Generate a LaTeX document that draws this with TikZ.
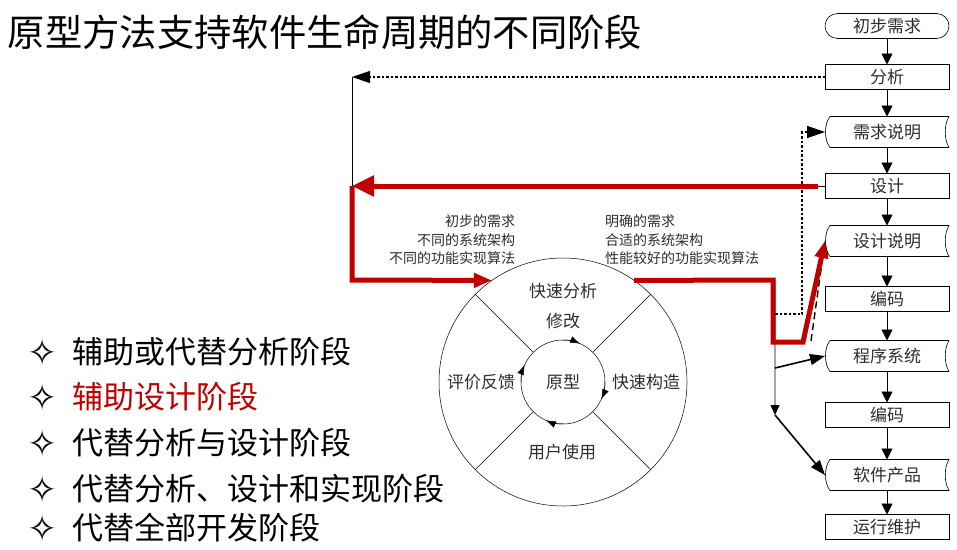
\documentclass[tikz,border=0pt]{standalone}
\usepackage{fontspec}
\setmainfont{Noto Sans CJK SC}
\newfontfamily\starfont{DejaVu Sans}
\usetikzlibrary{calc,arrows.meta}
\definecolor{protored}{RGB}{192,0,0}
\definecolor{boxtext}{RGB}{45,45,45}

\begin{document}
\begin{tikzpicture}[x=1pt, y=1pt,
  every node/.style={inner sep=0pt, outer sep=0pt},
  flowbox/.style={draw, line width=0.6pt, minimum width=124pt, minimum height=25pt,
    font=\fontsize{17}{17}\selectfont, text=boxtext},
  termbox/.style={flowbox, rounded corners=12.5pt},
  docbox/.style={flowbox, draw=none, minimum height=31pt},
  wheeltext/.style={font=\fontsize{17}{17}\selectfont, text=boxtext},
  notetext/.style={font=\fontsize{14}{18.5}\selectfont, text=boxtext},
  itemtext/.style={anchor=west, font=\fontsize{31}{31}\selectfont, text height=25pt, text depth=4pt},
  flow/.style={-{Triangle[length=11pt, width=11pt]}, line width=0.8pt},
  dotline/.style={line width=1.3pt, dash pattern=on 2.5pt off 2pt},
  dashline/.style={line width=1.4pt, dash pattern=on 7pt off 4pt},
  redline/.style={protored, line width=5pt}]
  \useasboundingbox (0,0) rectangle (957,-549);

  \node[anchor=west, font=\fontsize{37.3}{37}\selectfont] (title) at (8,-32) {原型方法支持软件生命周期的不同阶段};

  % life cycle column
  \node[termbox] (chubu) at (887,-26) {初步需求};
  \node[flowbox] (fenxi) at (887,-77) {分析};
  \node[docbox] (xqsm) at (887,-132) {需求说明};
  \node[flowbox] (sheji) at (887,-186) {设计};
  \node[docbox] (sjsm) at (887,-241) {设计说明};
  \node[flowbox] (bianma) at (887,-299) {编码};
  \node[docbox] (cxxt) at (887,-356) {程序系统};
  \node[flowbox] (bianmb) at (887,-415) {编码};
  \node[docbox] (rjcp) at (887,-475) {软件产品};
  \node[flowbox] (yxwh) at (887,-527) {运行维护};

  \foreach \d in {xqsm,sjsm,cxxt,rjcp}
    \draw[line width=0.6pt] ($(\d.north west)+(5,0)$)
      .. controls ($(\d.north west)+(-1,-7)$) and ($(\d.south west)+(-1,7)$) .. ($(\d.south west)+(5,0)$)
      -- (\d.south east)
      .. controls ($(\d.south east)+(-5,8)$) and ($(\d.north east)+(-5,-8)$) .. (\d.north east) -- cycle;

  \foreach \a/\b in {chubu/fenxi, fenxi/xqsm, xqsm/sheji, sheji/sjsm, sjsm/bianma,
                     bianma/cxxt, cxxt/bianmb, bianmb/rjcp, rjcp/yxwh}
    \draw[flow] (\a) -- (\b);

  % prototype wheel
  \node[circle, draw, line width=0.5pt, minimum size=248pt] (wheel) at (563,-382) {};
  \node[circle, draw, line width=0.5pt, minimum size=84pt, wheeltext] (core) at (563,-382) {原型};
  \foreach \a in {45,135,225,315}
    \draw[line width=0.5pt] (core.\a) -- (wheel.\a);
  \foreach \a in {66,-24,-114,156}
    \draw[line width=0.5pt, -{Latex[length=10pt, width=7pt]}]
      ([shift={(\a+25:42)}]core.center) arc[start angle=\a+25, end angle=\a, radius=42];

  \node[wheeltext] (kuaisu) at (563,-291) {快速分析};
  \node[wheeltext] (xiugai) at (563,-321) {修改};
  \node[wheeltext] (pingjia) at (481,-382) {评价反馈};
  \node[wheeltext] (gouzao) at (646,-382) {快速构造};
  \node[wheeltext] (yonghu) at (562,-452) {用户使用};

  \node[notetext, align=right, anchor=east] (noteleft) at (515,-240)
    {初步的需求\\不同的系统架构\\不同的功能实现算法};
  \node[notetext, align=left, anchor=west] (noteright) at (605,-240)
    {明确的需求\\合适的系统架构\\性能较好的功能实现算法};

  % bullet list
  \foreach \y/\t/\c [count=\i] in {353/辅助或代替分析阶段/black, 398/辅助设计阶段/protored,
      444/代替分析与设计阶段/black, 490/代替分析、设计和实现阶段/black, 529/代替全部开发阶段/black} {
    \node (star\i) at (43,-\y+1) {\starfont\fontsize{36}{36}\selectfont ✧};
    \node[itemtext, text=\c] (item\i) at (72,-\y) {\t};
  }

  % black connectors
  \coordinate (fbtop) at (352,-77);
  \coordinate (fbred) at (352,-186);
  \coordinate (fbbot) at (352,-280);
  \draw[dotline, -{Triangle[length=18pt, width=12pt]}] (fenxi.west) -- (fbtop);
  \draw[line width=0.8pt] (fbtop) -- (fbred);

  \coordinate (rtop) at (775,-280);
  \coordinate (rdown) at (775,-415);
  \coordinate (rbranch) at (775,-368);
  \draw[line width=0.8pt, -{Triangle[length=10pt, width=9pt]}] (wheel.55) -- (rtop) -- (rdown);
  \draw[line width=1.6pt, -{Triangle[length=15pt, width=11pt]}] (rbranch) -- (cxxt.west);
  \draw[line width=1.6pt, -{Triangle[length=15pt, width=11pt]}] (rdown) -- (rjcp.west);

  \coordinate (dotstart) at (775,-314);
  \coordinate (dotknee) at (802,-314);
  \coordinate (dotup) at (802,-132);
  \draw[dotline, -{Triangle[length=18pt, width=12pt]}] (dotstart) -- (dotknee) -- (dotup) -- (xqsm.west);

  \coordinate (dashstart) at (811,-341);
  \draw[dashline, -{Triangle[length=14pt, width=10pt]}] (dashstart) -- (sjsm.west);

  % red path
  \coordinate (shejistub) at (818,-186);
  \draw[line width=0.8pt] (sheji.west) -- (shejistub);
  \draw[redline, -{Triangle[length=22pt, width=20pt]}] (shejistub) -- (fbred);
  \draw[redline, -{Triangle[length=18pt, width=14pt]}] (fbred) -- (fbbot) -- (wheel.125);

  \coordinate (rr1) at (773,-280);
  \coordinate (rr2) at (773,-342);
  \coordinate (rr3) at (803,-342);
  \draw[redline, -{Triangle[length=17pt, width=13pt]}] (wheel.55) -- (rr1) -- (rr2) -- (rr3) -- (sjsm.west);
\end{tikzpicture}
\end{document}
